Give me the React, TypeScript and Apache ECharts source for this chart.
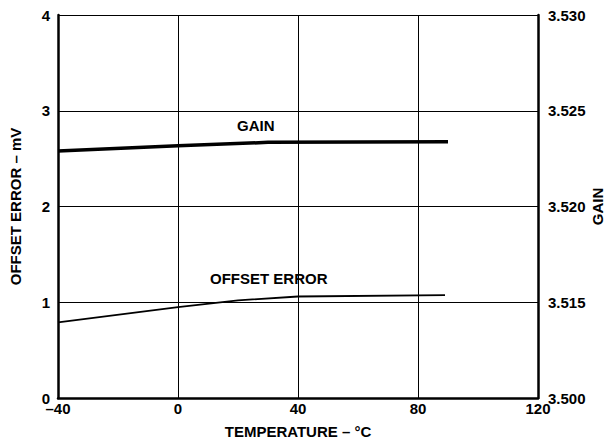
import React, { useEffect, useRef } from "react";
import * as echarts from "echarts";

const offsetTemps = [-40, 0, 20, 40, 89];
const offsetValues = [0.79, 0.95, 1.02, 1.06, 1.075];
const gainTemps = [-40, 0, 30, 90];
const gainValues = [3.5229, 3.52317, 3.52335, 3.52338];
const xTicks = [-40, 0, 40, 80, 120];
const leftTicks = [0, 1, 2, 3, 4];
const rightTickLabels = ["3.500", "3.515", "3.520", "3.525", "3.530"];

const FONT = "'Liberation Sans', Arial, sans-serif";

export default function App() {
  const ref = useRef<HTMLDivElement>(null);
  useEffect(() => {
    if (!ref.current) return;
    const chart = echarts.init(ref.current, undefined, { renderer: "svg" });
    const txt = { fontFamily: FONT, fontWeight: "bold" as const, fontSize: 15, color: "#000" };
    chart.setOption({
      animation: false,
      backgroundColor: "#fff",
      grid: { left: 58, right: 67, top: 15, bottom: 48, show: false, containLabel: false, outerBoundsMode: "none" },
      xAxis: {
        type: "value",
        min: xTicks[0],
        max: xTicks[xTicks.length - 1],
        interval: 40,
        axisLine: { show: true, onZero: false, lineStyle: { color: "#000", width: 2.5 } },
        axisTick: { show: false },
        splitLine: { show: true, lineStyle: { color: "#000", width: 1 } },
        axisLabel: { ...txt, margin: 3, formatter: (v: number) => String(v).replace("-", "–") },
        name: "TEMPERATURE – °C",
        nameLocation: "middle",
        nameGap: 26,
        nameMoveOverlap: false,
        nameTextStyle: { ...txt },
      },
      yAxis: [
        {
          type: "value",
          min: leftTicks[0],
          max: leftTicks[leftTicks.length - 1],
          interval: 1,
          position: "left",
          axisLine: { show: true, onZero: false, lineStyle: { color: "#000", width: 2.5 } },
          axisTick: { show: false },
          splitLine: { show: true, lineStyle: { color: "#000", width: 1 } },
          axisLabel: { ...txt, margin: 8 },
          name: "OFFSET ERROR – mV",
          nameLocation: "middle",
          nameGap: 35,
          nameMoveOverlap: false,
          nameTextStyle: { ...txt },
        },
        {
          type: "value",
          min: 3.51,
          max: 3.53,
          interval: 0.005,
          position: "right",
          axisLine: { show: true, onZero: false, lineStyle: { color: "#000", width: 2.5 } },
          axisTick: { show: false },
          splitLine: { show: false },
          axisLabel: {
            ...txt,
            margin: 10,
            formatter: (v: number) => rightTickLabels[Math.round((v - 3.51) / 0.005)] ?? "",
          },
          name: "GAIN",
          nameLocation: "middle",
          nameGap: 52,
          nameRotate: 90,
          nameMoveOverlap: false,
          nameTextStyle: { ...txt },
        },
      ],
      series: [
        {
          type: "line",
          yAxisIndex: 1,
          data: gainTemps.map((t, i) => [t, gainValues[i]]),
          showSymbol: false,
          lineStyle: { color: "#000", width: 3.5 },
          z: 5,
        },
        {
          type: "line",
          yAxisIndex: 0,
          data: offsetTemps.map((t, i) => [t, offsetValues[i]]),
          showSymbol: false,
          lineStyle: { color: "#000", width: 1.8 },
          z: 5,
        },
      ],
      graphic: [
        { type: "text", left: 237, top: 118, style: { text: "GAIN", font: `bold 15px ${FONT}`, fill: "#000" } },
        { type: "text", left: 210, top: 271, style: { text: "OFFSET ERROR", font: `bold 15px ${FONT}`, fill: "#000" } },
      ],
    });
    return () => chart.dispose();
  }, []);
  return <div ref={ref} style={{ width: 605, height: 446, position: "absolute", left: 0, top: 0 }} />;
}
